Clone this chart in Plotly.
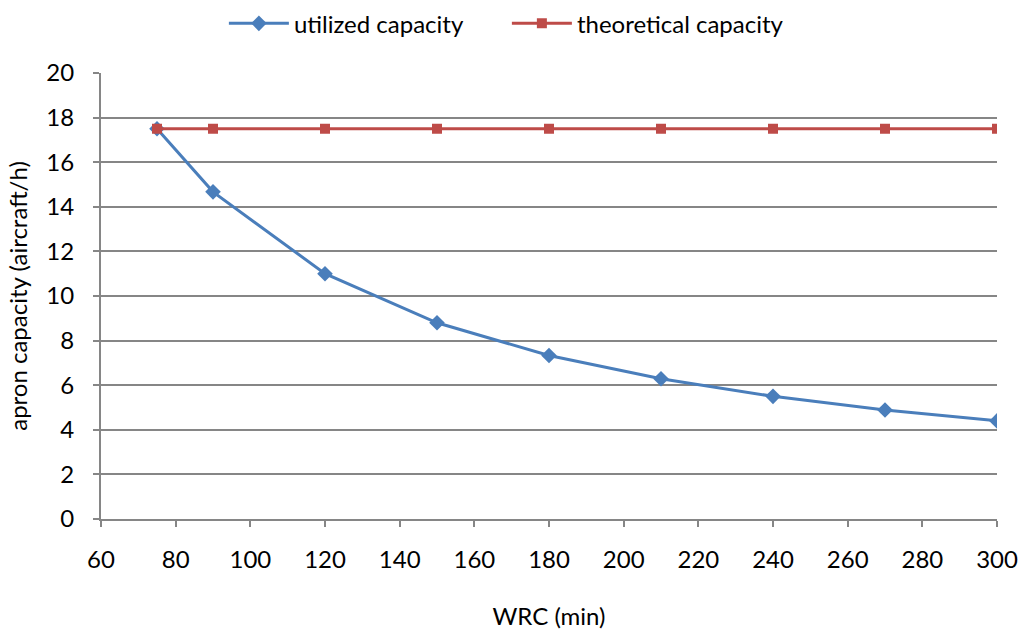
import plotly.graph_objects as go

wrc = [75, 90, 120, 150, 180, 210, 240, 270, 300]
utilized = [17.5, 14.67, 11.0, 8.8, 7.33, 6.29, 5.5, 4.89, 4.4]
theoretical = [17.5, 17.5, 17.5, 17.5, 17.5, 17.5, 17.5, 17.5, 17.5]
x_ticks = [60, 80, 100, 120, 140, 160, 180, 200, 220, 240, 260, 280, 300]
y_ticks = [0, 2, 4, 6, 8, 10, 12, 14, 16, 18, 20]

FONT = "Lato, Carlito, Calibri, sans-serif"
FS = 24

fig = go.Figure()
fig.add_trace(go.Scatter(
    x=wrc, y=utilized, mode="lines+markers", name="utilized capacity",
    line=dict(color="#4A7EBB", width=3),
    marker=dict(symbol="diamond", size=12, color="#4A7EBB"),
))
fig.add_trace(go.Scatter(
    x=wrc, y=theoretical, mode="lines+markers", name="theoretical capacity",
    line=dict(color="#BE4B48", width=3),
    marker=dict(symbol="square", size=10, color="#BE4B48"),
))

axis_common = dict(
    showline=True, linecolor="#868686", linewidth=2,
    ticks="outside", tickcolor="#868686", ticklen=6, tickwidth=1.5,
    tickfont=dict(size=FS, color="#000000", family=FONT),
    zeroline=False, automargin=False,
)

fig.update_xaxes(
    range=[60, 300], tickvals=x_ticks, showgrid=False, ticklabelstandoff=12,
    title=dict(text="WRC (min)", font=dict(size=FS, family=FONT, color="#000"), standoff=36),
    **axis_common,
)
fig.update_yaxes(
    range=[0, 20], tickvals=y_ticks, showgrid=True, gridcolor="#868686", gridwidth=1.5,
    ticklabelstandoff=14,
    title=dict(text="apron capacity (aircraft/h)", font=dict(size=FS, family=FONT, color="#000"), standoff=12),
    **axis_common,
)

fig.update_layout(
    width=1024, height=635,
    margin=dict(l=101, r=27, t=73, b=116),
    paper_bgcolor="white", plot_bgcolor="white",
    font=dict(family=FONT, size=FS, color="#000"),
    legend=dict(orientation="h", x=0.495, xanchor="center", xref="container",
                y=0.998, yanchor="top", yref="container",
                itemwidth=60, entrywidth=208, entrywidthmode="pixels",
                font=dict(size=FS, family=FONT)),
    showlegend=True,
)

fig.write_html("out.html")
